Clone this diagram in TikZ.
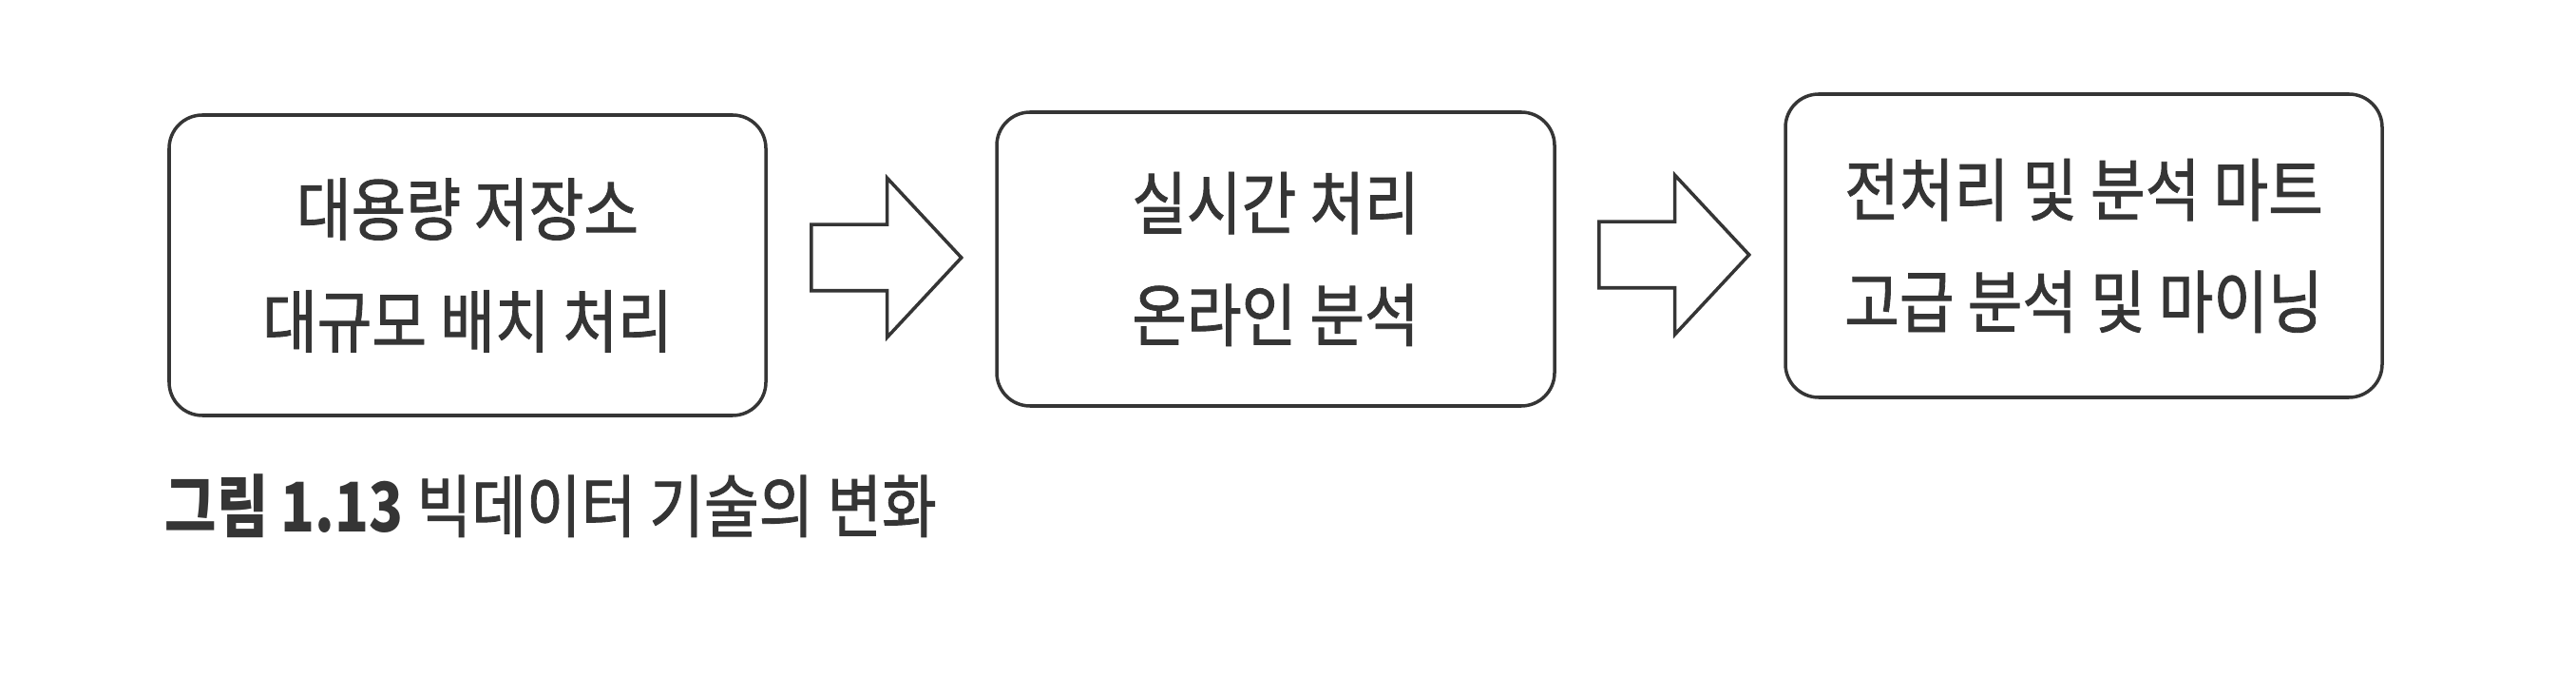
\documentclass[tikz,border=0pt]{standalone}
\usepackage{fontspec}
\setmainfont{Noto Sans CJK KR}[FakeStretch=0.87, FakeBold=1.2,
  BoldFeatures={FakeStretch=0.82, FakeBold=0}]
\usetikzlibrary{shapes.arrows}

\definecolor{ink}{HTML}{353535}

\begin{document}
\begin{tikzpicture}[
  font={\fontsize{20.5pt}{33.5pt}\selectfont}, text=ink,
  box/.style={draw=ink, line width=1pt, rounded corners=0.35cm, align=center, inner sep=0pt},
  blk/.style={draw=ink, line width=1pt, single arrow, anchor=west, inner xsep=0pt, inner ysep=0.33cm,
    minimum height=1.58cm, single arrow head extend=0.49cm, single arrow tip angle=94},
  figcap/.style={anchor=west, inner sep=0pt}]
  \useasboundingbox (0,0) rectangle (27.11,7.10);
  \node[box, minimum width=6.28cm, minimum height=3.16cm] (store) at (4.92,4.31)
    {대용량 저장소\\대규모 배치 처리};
  \node[box, minimum width=5.87cm, minimum height=3.09cm] (online) at (13.425,4.375)
    {실시간 처리\\온라인 분석};
  \node[box, minimum width=6.28cm, minimum height=3.19cm] (mart) at (21.93,4.515)
    {전처리 및 분석 마트\\고급 분석 및 마이닝};
  \node[blk] (go1) at (8.52,4.39) {};
  \node[blk] (go2) at (16.81,4.42) {};
  \node[figcap] (title) at (1.73,1.78) {\textbf{그림 1.13} 빅데이터 기술의 변화};
\end{tikzpicture}
\end{document}
